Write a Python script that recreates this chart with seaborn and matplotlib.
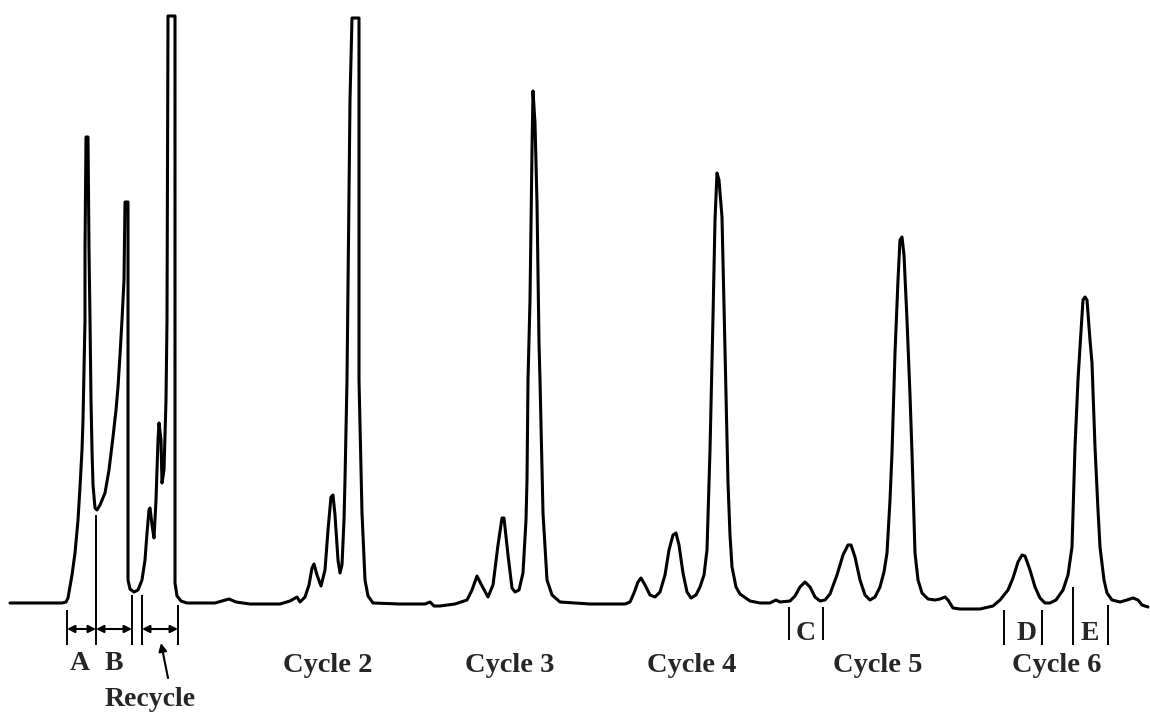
import matplotlib
matplotlib.use("Agg")
import matplotlib.pyplot as plt
import seaborn as sns
import pandas as pd

trace_x = [10, 40, 62, 66, 68, 72, 75, 78, 80, 82, 83, 84, 85, 85, 86, 88, 89, 90, 91, 92, 93, 95, 97,
           100, 105, 109, 113, 116, 118, 120, 122, 124, 125, 128, 128, 130, 134, 138, 142, 145, 147, 149,
           150, 152, 154, 156, 158, 159, 161, 162, 164, 166, 167, 168, 175, 175, 175, 177, 181, 187,
           200, 215, 222, 229, 236, 250, 280, 290, 297, 300, 305, 309, 312, 314, 317, 321, 325, 328,
           331, 333, 335, 338, 340, 342, 344, 345, 347, 350, 352, 359, 359, 362, 365, 368, 373,
           400, 425, 430, 434, 440, 455, 467, 472, 477, 481, 488, 493, 498, 502, 504, 508, 512, 515,
           519, 523, 526, 527, 528, 530, 532, 533, 535, 537, 539, 540, 543, 547, 552, 560, 590,
           625, 630, 634, 638, 641, 645, 650, 655, 660, 665, 669, 673, 676, 679, 683, 687, 691, 696,
           700, 704, 707, 710, 713, 715, 717, 719, 722, 725, 728, 730, 732, 736, 740, 750, 760,
           770, 776, 780, 790, 795, 800, 805, 810, 815, 820, 825, 830, 837, 843, 848, 851, 855, 860,
           865, 870, 875, 880, 884, 887, 890, 892, 895, 898, 900, 902, 904, 907, 910, 912, 915, 918,
           922, 928, 935, 940, 945, 948, 953, 960, 980, 993, 1000, 1008, 1013, 1018, 1022, 1025,
           1030, 1035, 1040, 1045, 1050, 1056, 1063, 1068, 1072, 1075, 1078, 1080, 1083, 1085, 1087,
           1090, 1092, 1095, 1098, 1100, 1104, 1107, 1112, 1120, 1127, 1133, 1138, 1142, 1148]
trace_y = [0, 0, 0, 1, 5, 28, 50, 83, 116, 153, 183, 233, 283, 353, 466, 466, 353, 283, 203, 153, 118, 95, 93,
           98, 110, 133, 166, 193, 216, 248, 283, 323, 401, 401, 23, 14, 11, 13, 23, 43, 70, 93,
           95, 78, 65, 103, 163, 180, 163, 120, 133, 203, 283, 587, 587, 283, 20, 7, 2, 0,
           0, 0, 2, 4, 1, -1, -1, 2, 6, 1, 6, 18, 35, 39, 28, 17, 33, 73,
           106, 108, 88, 43, 30, 38, 83, 123, 223, 503, 585, 585, 223, 90, 23, 7, 0,
           -1, -1, 1, -3, -3, -1, 3, 13, 27, 19, 6, 18, 58, 85, 85, 48, 15, 11,
           13, 30, 83, 123, 223, 303, 453, 512, 480, 400, 260, 223, 90, 23, 8, 1, -1,
           -1, 1, 10, 21, 25, 18, 8, 6, 11, 28, 53, 68, 70, 58, 30, 11, 5, 8,
           16, 28, 53, 153, 286, 383, 430, 423, 386, 253, 120, 68, 36, 16, 9, 2, 0,
           0, 3, 1, 2, 7, 16, 21, 16, 6, 2, 3, 9, 28, 48, 58, 58, 46, 23,
           8, 3, 6, 16, 31, 50, 103, 150, 250, 323, 363, 366, 348, 283, 208, 150, 50, 23,
           10, 4, 3, 4, 6, 3, -5, -6, -6, -3, 3, 13, 25, 41, 48, 47,
           33, 16, 5, 0, 0, 3, 13, 28, 56, 156, 223, 256, 303, 306, 303,
           263, 240, 156, 93, 56, 23, 10, 3, 1, 3, 5, 3, -2, -4]

# Fraction cut marks
mark_x = [67, 96, 132, 142, 178, 789, 823, 1004, 1042, 1073, 1108]
mark_top = [-7, 88, 8, 8, -2, -4, -4, -7, -7, 16, -2]
mark_bottom = [-42, -42, -42, -42, -42, -37, -37, -42, -42, -42, -42]

# Collection intervals (double arrows)
span_start = [67, 96, 142]
span_end = [96, 132, 178]
span_level = -26

# Labels
frac_labels = ["A", "B", "C", "D", "E"]
frac_x = [80, 114, 806, 1027, 1090]
frac_y = [-60, -60, -30, -30, -30]
cycle_labels = ["Cycle 2", "Cycle 3", "Cycle 4", "Cycle 5", "Cycle 6"]
cycle_x = [328, 510, 692, 878, 1057]
cycle_y = -62
recycle_label = "Recycle"

sns.set_style("white")
plt.rcParams["font.family"] = ["Liberation Serif", "DejaVu Serif"]

fig = plt.figure(figsize=(11.5, 7.16), dpi=100)
ax = fig.add_axes([0, 0, 1, 1])

df = pd.DataFrame({"t": trace_x, "signal": trace_y})
sns.lineplot(data=df, x="t", y="signal", sort=False, estimator=None,
             color="black", linewidth=2.2, ax=ax)

ax.vlines(mark_x, mark_bottom, mark_top, color="black", linewidth=1.4)

for s, e in zip(span_start, span_end):
    ax.annotate("", xy=(e, span_level), xytext=(s, span_level),
                arrowprops=dict(arrowstyle="<|-|>", color="black", lw=1.5,
                                mutation_scale=11, shrinkA=0, shrinkB=0))

ax.annotate("", xy=(161, -40), xytext=(168, -75),
            arrowprops=dict(arrowstyle="-|>", color="black", lw=1.5,
                            mutation_scale=12, shrinkA=0, shrinkB=0))

for lab, x, y in zip(frac_labels, frac_x, frac_y):
    ax.text(x, y, lab, ha="center", va="center", fontsize=20, fontweight="bold")
for lab, x in zip(cycle_labels, cycle_x):
    ax.text(x, cycle_y, lab, ha="center", va="center", fontsize=20.5, fontweight="bold")
ax.text(150, -97, recycle_label, ha="center", va="center", fontsize=20, fontweight="bold")

ax.set_xlim(0, 1150)
ax.set_ylim(-113, 603)
ax.axis("off")

fig.savefig("out.png", dpi=100)
